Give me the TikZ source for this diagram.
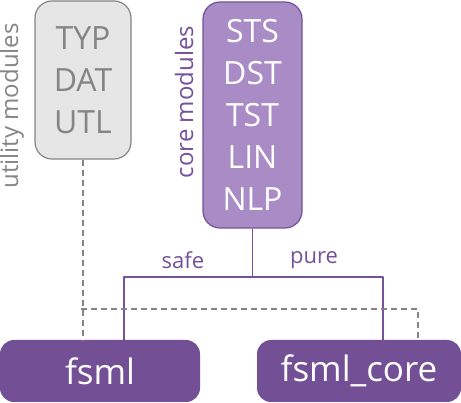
\documentclass[tikz,border=0pt]{standalone}
\usepackage{fontspec}
\setmainfont{Open Sans}
\usepackage{xcolor}
\usetikzlibrary{calc,positioning}
\definecolor{utlgray}{HTML}{E6E6E6}
\definecolor{utldraw}{HTML}{858585}
\definecolor{corefill}{HTML}{A98BC5}
\definecolor{coredraw}{HTML}{74519B}
\definecolor{pkgfill}{HTML}{734F96}
\tikzset{
  modbox/.style={rounded corners=17pt, line width=1.2pt, align=center, inner sep=0pt,
    font=\fontsize{32}{42}\selectfont},
  utlbox/.style={modbox, draw=utldraw, fill=utlgray, text=utldraw},
  corebox/.style={modbox, draw=coredraw, fill=corefill, text=white},
  pkgbox/.style={rounded corners=14pt, fill=pkgfill, text=white, inner sep=0pt,
    font=\fontsize{35}{40}\selectfont},
  grouplbl/.style={rotate=90, font=\fontsize{24}{28}\selectfont},
  edgelbl/.style={text=coredraw, font=\fontsize{22}{26}\selectfont},
  coreline/.style={draw=coredraw, line width=1.4pt},
  utlline/.style={draw=utldraw, line width=1.4pt, dash pattern=on 6pt off 4pt},
  every picture/.style={line cap=butt, line join=round}
}

\begin{document}
\begin{tikzpicture}[x=1pt, y=-1pt]
  \useasboundingbox (0,0) rectangle (461,403);
  \node[utlbox, minimum width=96pt, minimum height=158pt] (utl) at (83,80) {TYP\\DAT\\UTL};
  \node[corebox, minimum width=99pt, minimum height=226pt] (core) at (252.5,115) {STS\\DST\\TST\\LIN\\NLP};
  \node[grouplbl, text=utldraw] (utllbl) at (12,106) {utility modules};
  \node[grouplbl, text=coredraw] (corelbl) at (184,102) {core modules};
  \node[pkgbox, minimum width=200pt, minimum height=62pt] (fsml) at (100,371) {fsml};
  \node[pkgbox, minimum width=204pt, minimum height=62pt] (fsmlcore) at (359,371) {fsml\_core};
  \coordinate (fork) at (252.5,277);
  \coordinate (fsmlin) at (124,340);
  \coordinate (corein) at (383,340);
  \coordinate (utlbus) at (81,309);
  \coordinate (utlin) at (418,340);
  \draw[coreline] (core.south) -- (fork);
  \draw[coreline] (fsmlin) |- (fork) -| (corein);
  \draw[utlline] (utl.south) -- (utl.south |- fsml.north);
  \draw[utlline] (utlbus) -| (utlin);
  \node[edgelbl] (safe) at (183,260) {safe};
  \node[edgelbl] (pure) at (314,260) {pure};
\end{tikzpicture}
\end{document}
